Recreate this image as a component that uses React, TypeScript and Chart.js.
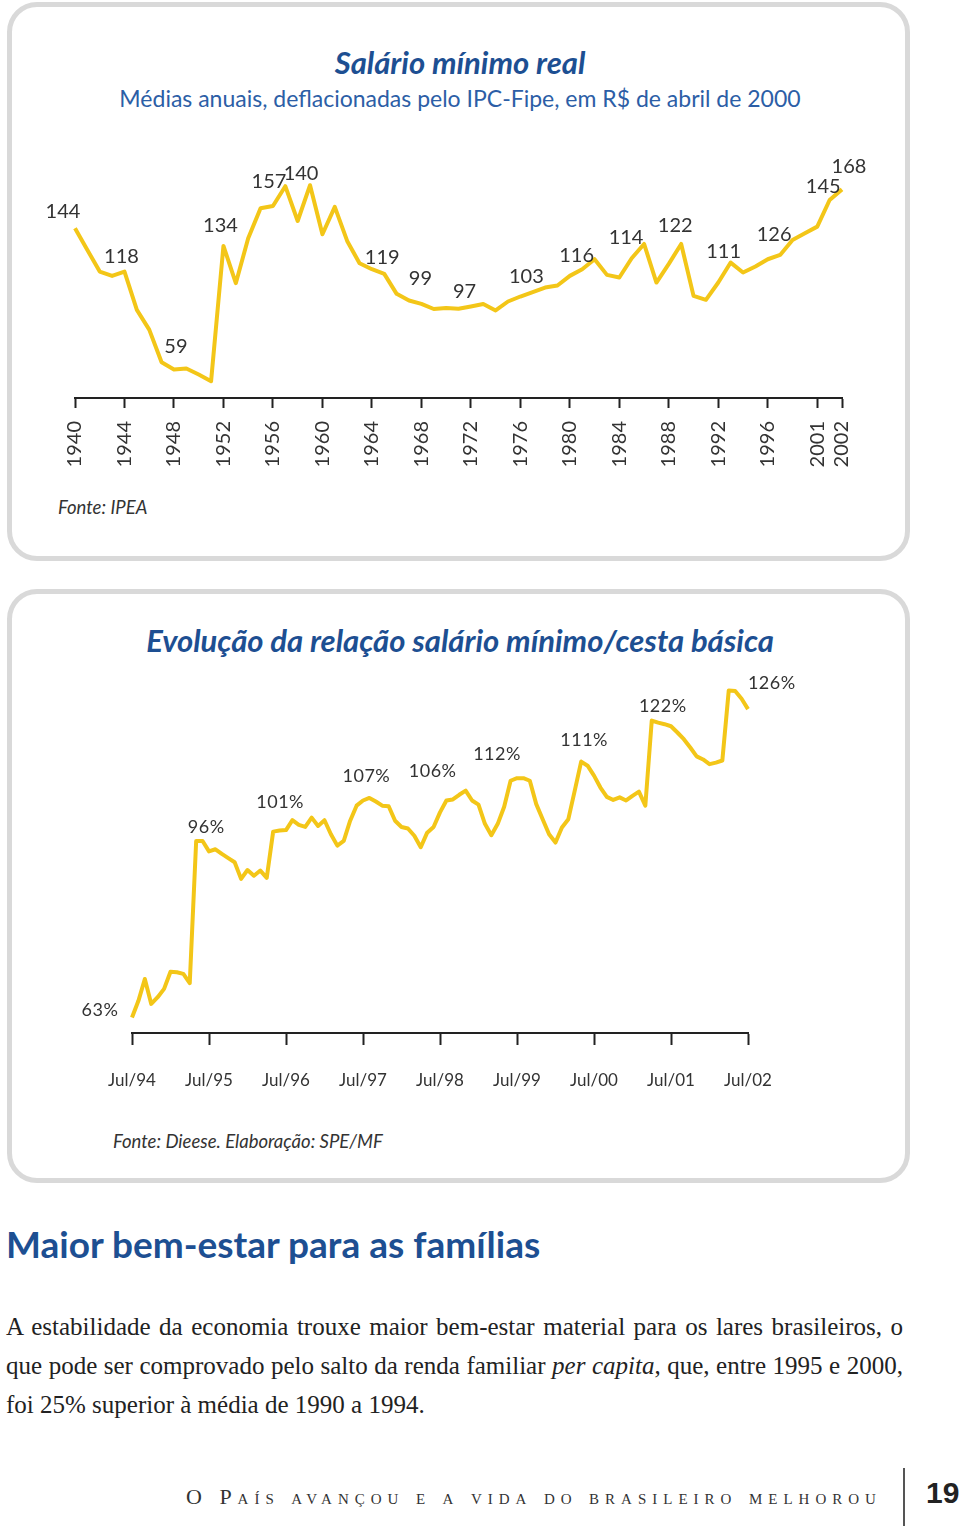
import React, { useEffect, useRef } from 'react';
import { Chart, registerables } from 'chart.js';

Chart.register(...registerables);

// ---------- Chart 1: Salário mínimo real (1940-2002) ----------
const years: string[] = [];
for (let y = 1940; y <= 2002; y++) years.push(String(y));

const salarioReal = [
  144, 131, 118, 115.4, 118, 95, 83.1, 63.5, 59.1, 59.7,
  56.1, 52.1, 133.4, 111, 138, 156, 157.4, 169.3, 148.4, 169.9,
  140.4, 156.9, 136.4, 123, 119.4, 116.6, 104.6, 100.6, 98.6, 95.5,
  96.1, 95.6, 97, 98.5, 94.6, 100, 103, 105.7, 108.4, 109.6,
  115.4, 119.4, 125.4, 116, 114.4, 126, 134.6, 111.4, 122.6, 134.6,
  103.4, 101, 111.4, 123.4, 117.4, 121, 125.4, 128, 137, 141,
  145, 161, 167.4,
];

// tick label shown under a given category (as printed in the original)
const yearTickCategories = ['1940', '1944', '1948', '1952', '1956', '1960', '1964', '1968', '1972', '1976', '1980', '1984', '1988', '1992', '1996', '2000', '2002'];
const yearTickTexts = ['1940', '1944', '1948', '1952', '1956', '1960', '1964', '1968', '1972', '1976', '1980', '1984', '1988', '1992', '1996', '2001', '2002'];

const salarioLabelIndex = [0, 4, 8, 12, 16, 19, 25, 28, 31, 36, 42, 46, 49, 53, 57, 60, 62];
const salarioLabelText = ['144', '118', '59', '134', '157', '140', '119', '99', '97', '103', '116', '114', '122', '111', '126', '145', '168'];
const salarioLabelDx = [-12, -3, 2, -3, -4, -9, -2, -1, 6, 6, -18, -18, -6, -7, -6, 6, 7];
const salarioLabelDy = [-17, -15, -23, -20, -24, -12, -16, -25, -17, -20, -4, -6, -18, -11, -20, -40, -23];

// ---------- Chart 2: salário mínimo / cesta básica (Jul/94 - Jul/02) ----------
const monthNames = ['Jul', 'Ago', 'Set', 'Out', 'Nov', 'Dez', 'Jan', 'Fev', 'Mar', 'Abr', 'Mai', 'Jun'];
const months: string[] = [];
for (let i = 0; i <= 96; i++) {
  const yr = 94 + Math.floor((i + 6) / 12);
  months.push(monthNames[i % 12] + '/' + String(yr % 100).padStart(2, '0'));
}

const relacaoCesta = [
  63.0, 66.2, 70.4, 65.6, 66.9, 68.5, 71.8, 71.7, 71.4, 69.6,
  97.0, 97.0, 95.0, 95.4, 94.5, 93.7, 92.9, 89.7, 91.4, 90.3,
  91.3, 89.9, 98.8, 99.0, 99.1, 101.0, 100.1, 99.7, 101.5, 99.9,
  101.0, 98.3, 96.1, 97.0, 100.9, 103.8, 104.8, 105.3, 104.6, 103.8,
  103.7, 100.9, 99.7, 99.4, 98.0, 95.8, 98.6, 99.7, 102.5, 104.8,
  105.0, 105.9, 106.7, 104.8, 104.0, 100.3, 98.1, 100.3, 103.6, 108.6,
  109.1, 109.1, 108.6, 104.1, 101.2, 98.3, 96.7, 99.6, 101.2, 106.7,
  112.3, 111.5, 109.6, 107.3, 105.5, 104.9, 105.4, 104.8, 105.7, 106.5,
  103.8, 120.2, 119.8, 119.5, 119.1, 117.9, 116.6, 115.0, 113.3, 112.7,
  111.8, 112.1, 112.5, 126.0, 125.9, 124.4, 122.4,
];

const cestaLabelIndex = [0, 10, 22, 37, 52, 60, 70, 81, 93];
const cestaLabelText = ['63%', '96%', '101%', '107%', '106%', '112%', '111%', '122%', '126%'];
const cestaLabelDx = [-32, 10, 7, -3, -33, -20, 3, 11, 43];
const cestaLabelDy = [-7, -14, -29, -22, -19, -24, -21, -14, -7];

const YELLOW = '#f3c618';
const AXIS = '#222222';
const TEXT = '#333333';
const BLUE = '#1d4f92';

const pointLabelsPlugin = {
  id: 'pointLabels',
  afterDatasetsDraw(chart: any, _args: any, opts: any) {
    if (!opts || !opts.index) return;
    const meta = chart.getDatasetMeta(0);
    const ctx = chart.ctx;
    ctx.save();
    ctx.font = opts.font;
    ctx.fillStyle = opts.color;
    ctx.textAlign = 'center';
    ctx.textBaseline = 'middle';
    if (opts.spacing) (ctx as any).letterSpacing = opts.spacing;
    opts.index.forEach((idx: number, k: number) => {
      const p = meta.data[idx];
      if (!p) return;
      ctx.fillText(opts.text[k], p.x + opts.dx[k], p.y + opts.dy[k]);
    });
    ctx.restore();
  },
};

function useChart(build: () => any) {
  const ref = useRef<HTMLCanvasElement | null>(null);
  useEffect(() => {
    if (!ref.current) return;
    const chart = new Chart(ref.current, build());
    return () => chart.destroy();
  }, []);
  return ref;
}

function SalarioChart() {
  const ref = useChart(() => ({
    type: 'line',
    data: {
      labels: years,
      datasets: [{
        data: salarioReal,
        borderColor: YELLOW,
        borderWidth: 4,
        pointRadius: 0,
        tension: 0,
        borderJoinStyle: 'round',
        clip: false,
      }],
    },
    options: {
      responsive: false,
      animation: false,
      layout: { padding: { left: 75, right: 118, top: 48.4, bottom: 0 } },
      plugins: {
        legend: { display: false },
        tooltip: { enabled: false },
        pointLabels: {
          index: salarioLabelIndex, text: salarioLabelText, dx: salarioLabelDx, dy: salarioLabelDy,
          font: '20px Lato', color: TEXT,
        },
      },
      scales: {
        x: {
          type: 'category',
          offset: false,
          grid: { display: true, drawOnChartArea: false, drawTicks: true, tickLength: 10, tickWidth: 2, tickColor: AXIS },
          border: { display: true, color: AXIS, width: 2 },
          ticks: {
            autoSkip: false, maxRotation: 90, minRotation: 90, padding: 13,
            color: TEXT, font: { family: 'Lato', size: 20 },
            callback: (_v: any, idx: number) => {
              const k = yearTickCategories.indexOf(years[idx]);
              return k >= 0 ? yearTickTexts[k] : null;
            },
          },
          afterFit: (s: any) => { s.height = 75; },
        },
        y: { display: false, min: 42, max: 180 },
      },
    },
    plugins: [pointLabelsPlugin],
  }));
  return <canvas ref={ref} width={960} height={353} style={{ position: 'absolute', left: 0, top: 120, width: 960, height: 353 }} />;
}

function CestaChart() {
  const ref = useChart(() => ({
    type: 'line',
    data: {
      labels: months,
      datasets: [{
        data: relacaoCesta,
        borderColor: YELLOW,
        borderWidth: 4,
        pointRadius: 0,
        tension: 0,
        borderJoinStyle: 'round',
        clip: false,
      }],
    },
    options: {
      responsive: false,
      animation: false,
      layout: { padding: { left: 132, right: 212, top: 19.7, bottom: 0 } },
      plugins: {
        legend: { display: false },
        tooltip: { enabled: false },
        pointLabels: {
          index: cestaLabelIndex, text: cestaLabelText, dx: cestaLabelDx, dy: cestaLabelDy,
          font: '18px Lato', color: TEXT, spacing: '0.5px',
        },
      },
      scales: {
        x: {
          type: 'category',
          offset: false,
          grid: { display: true, drawOnChartArea: false, drawTicks: true, tickLength: 12, tickWidth: 2, tickColor: AXIS },
          border: { display: true, color: AXIS, width: 2 },
          ticks: {
            autoSkip: false, maxRotation: 0, minRotation: 0, padding: 25,
            color: TEXT, font: { family: 'Lato', size: 17 },
            callback: (_v: any, idx: number) => (idx % 12 === 0 ? months[idx] : null),
          },
          afterFit: (s: any) => { s.height = 70; },
        },
        y: { display: false, min: 60, max: 130 },
      },
    },
    plugins: [pointLabelsPlugin],
  }));
  return <canvas ref={ref} width={960} height={453} style={{ position: 'absolute', left: 0, top: 650, width: 960, height: 453 }} />;
}

const abs = (o: React.CSSProperties): React.CSSProperties => ({ position: 'absolute', whiteSpace: 'nowrap', margin: 0, ...o });

export default function App() {
  return (
    <div style={{ position: 'absolute', left: 0, top: 0, width: 960, height: 1527, background: '#fff', overflow: 'hidden', fontFamily: 'Lato, sans-serif' }}>
      {/* Panel 1 */}
      <div style={abs({ left: 7, top: 2, width: 903, height: 559, border: '5px solid #d9d9d9', borderRadius: 30, boxSizing: 'border-box' })} />
      <div style={abs({ left: 0, width: 920, top: 43, textAlign: 'center', fontSize: 31, lineHeight: '38px', fontWeight: 700, fontStyle: 'italic', color: BLUE })}>Salário mínimo real</div>
      <div style={abs({ left: 0, width: 920, top: 83, textAlign: 'center', fontSize: 23, lineHeight: '30px', color: '#2c5ea6' })}>Médias anuais, deflacionadas pelo IPC-Fipe, em R$ de abril de 2000</div>
      <SalarioChart />
      <div style={abs({ left: 58, top: 495, fontSize: 18.5, lineHeight: '24px', fontStyle: 'italic', color: TEXT })}>Fonte: IPEA</div>

      {/* Panel 2 */}
      <div style={abs({ left: 7, top: 589, width: 903, height: 594, border: '5px solid #d9d9d9', borderRadius: 30, boxSizing: 'border-box' })} />
      <div style={abs({ left: 0, width: 920, top: 621, textAlign: 'center', fontSize: 31, lineHeight: '38px', fontWeight: 700, fontStyle: 'italic', color: BLUE })}>Evolução da relação salário mínimo/cesta básica</div>
      <CestaChart />
      <div style={abs({ left: 113, top: 1129, fontSize: 18.5, lineHeight: '24px', fontStyle: 'italic', color: TEXT })}>Fonte: Dieese. Elaboração: SPE/MF</div>

      {/* Text */}
      <div style={abs({ left: 6, top: 1222, fontSize: 37, lineHeight: '44px', fontWeight: 700, color: BLUE })}>Maior bem-estar para as famílias</div>
      <div style={{ position: 'absolute', left: 6, top: 1307, width: 897, fontFamily: "'Liberation Serif', serif", fontSize: 25, lineHeight: '39px', textAlign: 'justify', color: '#222' }}>
        A estabilidade da economia trouxe maior bem-estar material para os lares brasileiros, o que pode ser comprovado pelo salto da renda familiar <i>per capita</i>, que, entre 1995 e 2000, foi 25% superior à média de 1990 a 1994.
      </div>

      {/* Footer */}
      <div style={abs({ left: 186, top: 1484, fontFamily: "'Liberation Serif', serif", fontSize: 22, lineHeight: '26px', fontVariant: 'small-caps', letterSpacing: '6px', color: '#333' })}>O País avançou e a vida do brasileiro melhorou</div>
      <div style={abs({ left: 903, top: 1468, width: 2, height: 58, background: '#555' })} />
      <div style={abs({ left: 926, top: 1476, fontFamily: "'Liberation Sans Narrow', 'Liberation Sans', sans-serif", fontSize: 30, lineHeight: '34px', fontWeight: 700, color: '#222' })}>19</div>
    </div>
  );
}
